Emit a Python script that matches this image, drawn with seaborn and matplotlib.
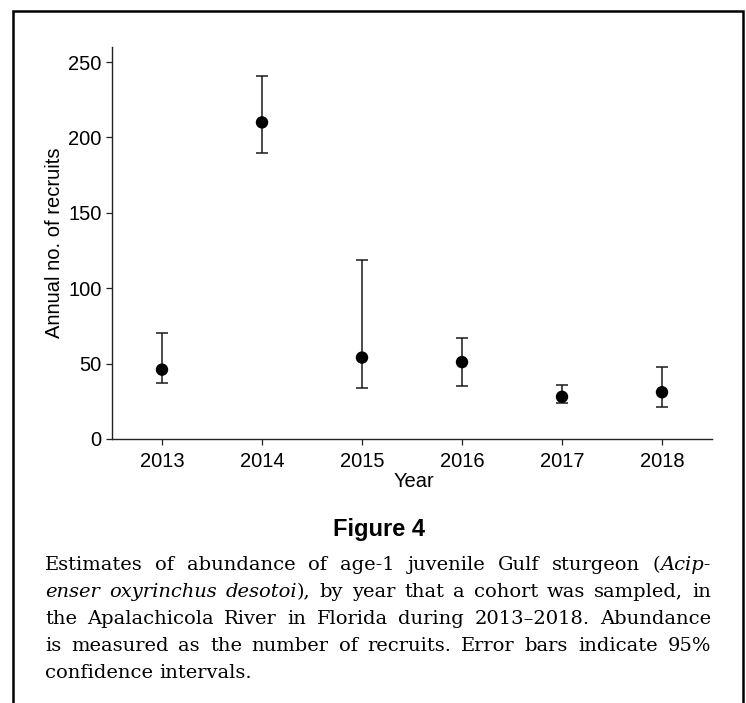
import numpy as np
import pandas as pd
import matplotlib.pyplot as plt
import seaborn as sns
from matplotlib.patches import Rectangle

# Abundance of age-1 Gulf sturgeon recruits, 95% CI
years = [2013, 2014, 2015, 2016, 2017, 2018]
recruits = [46, 210, 54, 51, 28, 31]
ci_low = [37, 190, 34, 35, 24, 21]
ci_high = [70, 241, 119, 67, 36, 48]
y_ticks = [0, 50, 100, 150, 200, 250]

fig_title = "Figure 4"
# *...* marks italic text
caption_lines = [
    "Estimates of abundance of age-1 juvenile Gulf sturgeon (*Acip-*",
    "*enser oxyrinchus desotoi*), by year that a cohort was sampled, in",
    "the Apalachicola River in Florida during 2013\u20132018. Abundance",
    "is measured as the number of recruits. Error bars indicate 95%",
    "confidence intervals.",
]

df = pd.DataFrame({"Year": years, "Recruits": recruits, "Low": ci_low, "High": ci_high})

sns.set_style("ticks")
plt.rcParams["font.family"] = ["Liberation Sans", "DejaVu Sans"]
plt.rcParams["text.color"] = "black"
plt.rcParams["axes.labelcolor"] = "black"

W, H = 746, 703
fig = plt.figure(figsize=(W / 100, H / 100), dpi=100)
ax = fig.add_axes([112 / W, 1 - 439 / H, 600 / W, 392 / H])

# error bars first, points on top
yerr = [df["Recruits"] - df["Low"], df["High"] - df["Recruits"]]
ax.errorbar(df["Year"], df["Recruits"], yerr=yerr, fmt="none", ecolor="#1a1a1a",
            elinewidth=1.1, capsize=4.4, capthick=1.1, zorder=2)
sns.scatterplot(data=df, x="Year", y="Recruits", color="black", s=80,
                edgecolor="none", zorder=3, ax=ax)

ax.set_xlim(2012.5, 2018.5)
ax.set_ylim(0, 260)
ax.set_xticks(years)
ax.set_yticks(y_ticks)
sns.despine(ax=ax)
for side in ["left", "bottom"]:
    ax.spines[side].set_linewidth(1.0)
    ax.spines[side].set_color("#222222")
ax.tick_params(length=4.3, width=0.9, color="#222222", labelsize=14.5, labelcolor="black")
ax.tick_params(axis="x", pad=5)
ax.tick_params(axis="y", pad=3)

ax.set_xlabel("Year", fontsize=14.5, color="black")
ax.xaxis.set_label_coords(0.504, -0.084)
ax.set_ylabel("Annual no. of recruits", fontsize=14.5, color="black")
ax.yaxis.set_label_coords(-0.08, 0.5)

# caption block
fig.text(379 / W, 1 - 536 / H, fig_title, fontsize=17, fontweight="bold",
         ha="center", va="baseline", color="black")


def parse_words(line):
    words = []
    italic = False
    for raw in line.split(" "):
        segs = []
        for k, part in enumerate(raw.split("*")):
            if k > 0:
                italic = not italic
            if part:
                segs.append((part, italic))
        words.append(segs)
    return words


renderer = fig.canvas.get_renderer()
cap_kw = dict(fontsize=14.0, family="DejaVu Serif", va="baseline", ha="left", color="black")
left_px, right_px = 45, 711

probe_a = fig.text(0, 0, "a a", **cap_kw)
probe_b = fig.text(0, 0, "aa", **cap_kw)
space_px = probe_a.get_window_extent(renderer).width - probe_b.get_window_extent(renderer).width
probe_a.remove()
probe_b.remove()

for i, line in enumerate(caption_lines):
    base_y = 1 - (570 + 26.9 * i) / H
    placed = []
    for word in parse_words(line):
        objs = []
        for seg, it in word:
            t = fig.text(0, base_y, seg, style="italic" if it else "normal", **cap_kw)
            objs.append((t, t.get_window_extent(renderer).width))
        placed.append(objs)
    total = sum(w for objs in placed for _, w in objs)
    last = i == len(caption_lines) - 1
    gap = space_px if last else (right_px - left_px - total) / (len(placed) - 1)
    x = left_px
    for objs in placed:
        for t, w in objs:
            t.set_x(x / W)
            x += w
        x += gap

# outer frame (open at the bottom edge of the image)
frame = Rectangle((13 / W, -0.05), (743 - 13) / W, 0.05 + 1 - 11.5 / H,
                  transform=fig.transFigure, fill=False, edgecolor="black",
                  linewidth=1.8, clip_on=False)
fig.patches.append(frame)

fig.savefig("out.png", dpi=100)
